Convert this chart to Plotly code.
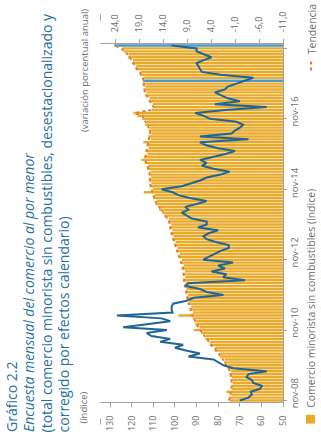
import pandas as pd
import plotly.graph_objects as go

# Monthly periods, nov-08 .. dic-18
months = pd.date_range("2008-11-01", "2018-12-01", freq="MS")
mes_abbr = ["ene", "feb", "mar", "abr", "may", "jun", "jul", "ago", "sep", "oct", "nov", "dic"]
month_labels = [f"{mes_abbr[m.month - 1]}-{m.strftime('%y')}" for m in months]

# Retail index without fuels (seasonally and calendar adjusted)
indice = [
    74.6, 75.0, 73.9, 76.2, 73.5, 73.9, 73.2, 74.3, 73.6, 74.7,
    74.0, 75.6, 75.4, 77.3, 77.0, 79.2, 79.1, 81.3, 81.4, 83.8,
    83.7, 85.9, 85.6, 87.9, 91.3, 88.6, 90.6, 90.1, 91.8, 98.4,
    91.6, 93.2, 92.5, 94.0, 93.3, 94.8, 93.9, 95.3, 94.6, 95.9,
    94.9, 96.3, 95.2, 96.5, 95.4, 96.8, 96.0, 97.6, 96.8, 98.5,
    97.8, 99.5, 98.8, 100.4, 99.7, 101.4, 100.6, 102.1, 101.2, 102.7,
    101.7, 103.2, 102.8, 105.0, 104.9, 107.2, 106.9, 108.9, 108.4, 110.2,
    109.4, 114.4, 110.2, 111.7, 110.8, 112.1, 110.9, 112.0, 111.1, 112.8,
    112.2, 114.0, 115.6, 114.2, 112.7, 113.6, 112.1, 113.0, 114.6, 111.2,
    112.2, 110.9, 112.1, 111.4, 113.6, 112.9, 115.1, 117.3, 119.2, 110.6,
    110.3, 110.2, 112.1, 111.7, 113.8, 113.2, 114.6, 113.6, 115.0, 114.7,
    114.2, 116.1, 115.9, 118.3, 117.9, 119.8, 119.4, 121.6, 121.4, 123.6,
    124.4, 128.0,
]

# Trend of the index
tendencia = [
    75.0, 74.6, 74.3, 74.0, 73.8, 73.7, 73.7, 73.8, 74.0, 74.2,
    74.5, 75.2, 76.0, 76.8, 77.7, 78.7, 79.7, 80.7, 82.0, 83.2,
    84.3, 85.3, 86.3, 87.3, 88.3, 89.2, 90.0, 90.7, 91.3, 91.8,
    92.3, 92.7, 93.1, 93.5, 93.9, 94.2, 94.5, 94.8, 95.1, 95.3,
    95.5, 95.7, 95.8, 95.9, 96.0, 96.2, 96.6, 97.0, 97.4, 97.9,
    98.4, 98.9, 99.4, 99.8, 100.3, 100.8, 101.2, 101.5, 101.8, 102.1,
    102.3, 102.6, 103.4, 104.4, 105.5, 106.6, 107.5, 108.3, 109.0, 109.6,
    110.0, 110.4, 110.8, 111.1, 111.4, 111.5, 111.5, 111.5, 111.7, 112.2,
    112.8, 113.4, 113.8, 113.6, 113.3, 113.0, 112.7, 112.4, 112.1, 111.8,
    111.6, 111.5, 111.5, 112.0, 113.0, 113.5, 114.5, 115.0, 118.5, 111.0,
    109.8, 110.8, 111.5, 112.3, 113.2, 113.8, 114.0, 114.2, 114.4, 114.6,
    114.8, 115.5, 116.5, 117.7, 118.5, 119.2, 120.0, 121.0, 122.0, 123.0,
    125.0, 127.7,
]

# Annual percentage change (right axis)
variacion = [
    -2.0, -3.8, -4.5, -4.3, -6.2, -6.6, -4.8, -4.5, -3.4, -3.8,
    -7.6, -0.6, 1.4, 2.5, 3.5, 8.7, 6.3, 9.0, 11.5, 9.8,
    14.6, 12.5, 16.4, 17.4, 13.2, 22.3, 16.7, 12.5, 14.3, 23.6,
    12.0, 12.2, 12.2, 11.9, 9.1, 7.6, 1.4, 4.9, 6.3, 9.4,
    8.7, -3.1, 1.5, 0.8, 3.9, 1.1, 2.5, -0.6, 5.6, 4.5,
    3.2, 2.0, 0.3, 0.3, 3.0, 4.9, 5.6, 4.5, 2.5, 6.7,
    4.9, 4.9, 8.0, 9.0, 10.1, 8.7, 9.4, 7.0, 4.9, 8.5,
    10.8, 12.0, 14.3, 10.1, 8.0, 6.3, 4.9, 2.0, 0.1, 3.5,
    5.9, 4.9, 6.3, 3.5, 1.0, -1.0, 2.5, 5.0, 6.3, -3.8,
    6.3, -0.3, -1.0, -2.0, -2.7, -1.3, 4.2, 5.5, 7.3, 1.0,
    -7.6, 3.2, -2.0, 0.5, 2.0, 3.2, 1.1, 0.5, -1.3, -3.0,
    -4.8, 2.0, 5.9, 6.3, 6.7, 7.0, 5.5, 3.9, 5.5, 7.0,
    7.0, 12.2,
]

# Months whose bar is highlighted
destacados = ["dic-17", "dic-18"]

indice_ticks = [50, 60, 70, 80, 90, 100, 110, 120, 130]
variacion_ticks = [24, 19, 14, 9, 4, -1, -6, -11]
variacion_ticktext = [f"{v:.1f}".replace(".", ",") for v in variacion_ticks]

pos = list(range(len(months)))
tick_pos = [p for p, m in zip(pos, months) if m.month == 11 and m.year % 2 == 0]
tick_text = [month_labels[p] for p in tick_pos]

ORANGE = "#E9AB2C"
TREND = "#EE7C30"
BLUE = "#1F6597"
BLUE_BAR = "#4E97C8"
AXIS = "#A3A3A3"
LABEL = "#6E6E6E"
TITLE = "#2571A2"
FONT = "Open Sans"

W, H = 321, 443
L, R, T, B = 100, 283, 43, 407
Y_RANGE = [-0.5, len(pos) - 0.5]


def px_x(x):
    return (x - L) / (R - L)


def px_y(y):
    return (B - y) / (B - T)


bar_colors = [BLUE_BAR if lab in destacados else ORANGE for lab in month_labels]

fig = go.Figure()
fig.add_trace(go.Bar(
    y=pos, x=indice, orientation="h", marker=dict(color=bar_colors, line=dict(width=0)),
    xaxis="x", yaxis="y", showlegend=False,
))
fig.add_trace(go.Scatter(
    y=pos, x=tendencia, mode="lines", line=dict(color=TREND, width=2, dash="dot"),
    xaxis="x", yaxis="y", showlegend=False,
))
fig.add_trace(go.Scatter(
    y=pos, x=variacion, mode="lines", line=dict(color=BLUE, width=2),
    xaxis="x2", yaxis="y", showlegend=False,
))

tickfont = dict(family=FONT, size=9, color=LABEL)

fig.update_layout(
    width=W, height=H,
    margin=dict(l=L, r=W - R, t=T, b=H - B, pad=0),
    paper_bgcolor="white", plot_bgcolor="white",
    bargap=0.18,
    xaxis=dict(
        range=[50 + (R - L) / 2.1625, 50], tickvals=indice_ticks,
        ticktext=[str(v) for v in indice_ticks], tickangle=-90,
        ticks="outside", ticklen=4, tickcolor=AXIS, showline=True, linecolor=AXIS,
        showgrid=False, zeroline=False, tickfont=tickfont, ticklabelstandoff=5,
    ),
    xaxis2=dict(
        overlaying="x", side="top", range=[-11 + (R - L) / 4.8, -11],
        tickvals=variacion_ticks, ticktext=variacion_ticktext, tickangle=-90,
        ticks="outside", ticklen=4, tickcolor=AXIS, showline=True, linecolor=AXIS,
        showgrid=False, zeroline=False, tickfont=tickfont, ticklabelstandoff=5,
    ),
    yaxis=dict(
        range=Y_RANGE, side="right", tickvals=tick_pos,
        showticklabels=False, ticks="outside", ticklen=3, tickcolor=AXIS,
        showline=True, linecolor=AXIS, showgrid=False, zeroline=False,
    ),
)

ann = []


def vtext(text, xc, y, anchor, size, color, italic=False, yref="paper"):
    ann.append(dict(
        text=f"<i>{text}</i>" if italic else text, xref="paper", yref=yref,
        x=px_x(xc), y=px_y(y) if yref == "paper" else y, xanchor="center", yanchor=anchor,
        textangle=-90, showarrow=False,
        font=dict(family=FONT, size=size, color=color),
    ))


# Title block
vtext("Gráfico 2.2", 11.5, 440, "bottom", 14, TITLE)
vtext("Encuesta mensual del comercio al por menor", 29, 440, "bottom", 14, TITLE, italic=True)
vtext("(total comercio minorista sin combustibles, desestacionalizado y", 46, 440, "bottom", 14, TITLE)
vtext("corregido por efectos calendario)", 63, 440, "bottom", 14, TITLE)

# Axis titles
vtext("(índice)", 84, 431, "bottom", 9.5, LABEL)
vtext("(variación porcentual anual)", 84, 6, "top", 9.5, LABEL)

# Time axis labels, set just after each tick
for p, lab in zip(tick_pos, tick_text):
    ann.append(dict(
        text=lab, xref="paper", yref="y", x=px_x(294.5), y=p + 2.3,
        xanchor="center", yanchor="middle", textangle=-90, showarrow=False,
        font=dict(family=FONT, size=9.5, color=LABEL),
    ))

# Legend
vtext("Comercio minorista sin combustibles (índice)", 311.5, 415, "bottom", 10.5, LABEL)
vtext("Tendencia", 311.5, 56, "bottom", 10.5, LABEL)
vtext("Variación porcentual anual (eje derecho)", 325.5, 415, "bottom", 10.5, LABEL)

shapes = [
    dict(type="rect", xref="paper", yref="paper", x0=px_x(306), x1=px_x(315),
         y0=px_y(429), y1=px_y(420), fillcolor=ORANGE, line=dict(width=0)),
    dict(type="line", xref="paper", yref="paper", x0=px_x(311), x1=px_x(311),
         y0=px_y(70), y1=px_y(58), line=dict(color=TREND, width=2, dash="dot")),
    dict(type="line", xref="paper", yref="paper", x0=px_x(100.5), x1=px_x(100.5),
         y0=px_y(424), y1=px_y(430), line=dict(color=AXIS, width=1)),
    dict(type="line", xref="paper", yref="paper", x0=px_x(100.5), x1=px_x(100.5),
         y0=px_y(13), y1=px_y(19), line=dict(color=AXIS, width=1)),
]

fig.update_layout(annotations=ann, shapes=shapes)
fig.write_html("out.html")
